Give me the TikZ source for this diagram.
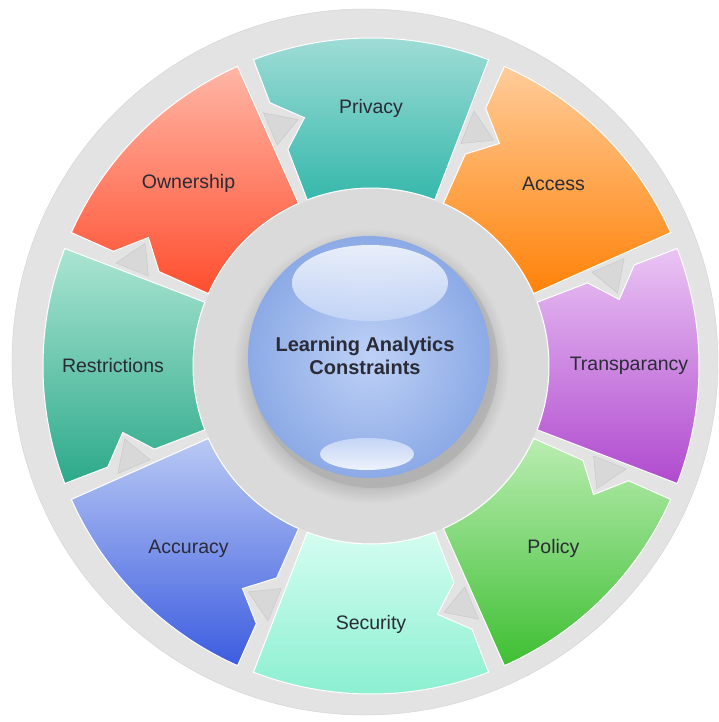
\documentclass[tikz,border=0pt]{standalone}
\usepackage{fontspec}
\setmainfont{Liberation Sans}
\usepackage{xcolor}
\usepackage{tikz}

\definecolor{privA}{HTML}{A3DED8}
\definecolor{privB}{HTML}{36B8AB}
\definecolor{accA}{HTML}{FFCC9A}
\definecolor{accB}{HTML}{FF8208}
\definecolor{traA}{HTML}{EAC4F4}
\definecolor{traB}{HTML}{B04ACF}
\definecolor{polA}{HTML}{BAEDB2}
\definecolor{polB}{HTML}{3EBF32}
\definecolor{segA}{HTML}{D4FDF0}
\definecolor{segB}{HTML}{88EFCF}
\definecolor{exaA}{HTML}{B9C9F4}
\definecolor{exaB}{HTML}{3C5CE0}
\definecolor{resA}{HTML}{ABE5D2}
\definecolor{resB}{HTML}{2CA98A}
\definecolor{proA}{HTML}{FFB6A6}
\definecolor{proB}{HTML}{FF4E2E}
\definecolor{grisfondo}{HTML}{E3E3E3}
\definecolor{grisborde}{HTML}{D2D2D2}
\definecolor{grisA}{HTML}{BDBDBD}
\definecolor{grisC}{HTML}{DADADA}
\definecolor{grisflecha}{HTML}{D8D8D8}
\definecolor{esferaA}{HTML}{BED1F6}
\definecolor{esferaB}{HTML}{8CAAE6}
\definecolor{textogris}{HTML}{2A2B36}

\pgfdeclareradialshading{anillo}{\pgfpoint{0bp}{0bp}}{%
  color(0bp)=(grisA); color(17bp)=(grisA); color(19.5bp)=(grisC);
  color(25bp)=(grisC); color(50bp)=(grisC)}

\begin{document}
\begin{tikzpicture}[x=1pt, y=1pt,
  segmento/.style={draw=white, line width=1pt},
  flecha/.style={fill=grisflecha, draw=gray!45, line width=0.4pt},
  etiqueta/.style={font=\fontsize{19.5}{22}\selectfont, text=textogris},
  centro/.style={font=\fontsize{20}{23}\selectfont\bfseries, text=textogris, align=center}
]
  \useasboundingbox (-371,-356) rectangle (348,366);
  \fill[white] (-371,-356) rectangle (348,366);

  % disco gris de fondo
  \fill[grisfondo, draw=grisborde] (-6,4) circle[radius=353pt];
  \shade[shading=anillo] (0,0) circle[radius=177pt];

  % segmentos con muesca
  \foreach \m/\nom/\t/\ca/\cb [evaluate=\m as \e using \m+21,
                               evaluate=\m as \f using \m-21] in
    {90/privacy/Privacy/privA/privB, 45/access/Access/accA/accB,
     0/transparancy/Transparancy/traA/traB, -45/policy/Policy/polA/polB,
     -90/security/Security/segA/segB, -135/accuracy/Accuracy/exaA/exaB,
     180/restrictions/Restrictions/resA/resB, 135/ownership/Ownership/proA/proB}
  {
    \path[segmento, top color=\ca, bottom color=\cb]
      (\e:328pt) arc[start angle=\e, end angle=\f, radius=328pt]
      -- (\f:178pt) arc[start angle=\f, end angle=\e, radius=178pt]
      -- (\e:232pt) -- ({\e-6}:257pt) -- (\e:282pt) -- cycle;
    \path[flecha] ({\e+2}:240pt) -- ({\e-4.5}:257pt) -- ({\e+2}:275pt) -- cycle;
    \node[etiqueta] (\nom) at (\m:258pt) {\t};
  }

  % esfera central
  \fill[gray!70, opacity=0.45] (3,2) circle[radius=124pt];
  \shade[inner color=esferaA, outer color=esferaB] (-2,9) circle[radius=121pt];
  \shade[top color=white, bottom color=esferaA!85!white, opacity=0.8]
    (-1,83) ellipse[x radius=78pt, y radius=38pt];
  \shade[top color=esferaA!80!white, bottom color=white, opacity=0.85]
    (-4,-88) ellipse[x radius=47pt, y radius=16pt];
  \node[centro] (lac) at (-6,10) {Learning Analytics\\Constraints};
\end{tikzpicture}
\end{document}
